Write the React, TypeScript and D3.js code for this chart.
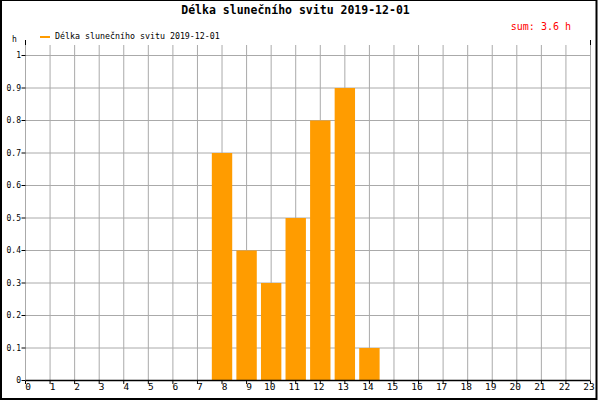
import React from "react";
import * as d3 from "d3";

const title = "Délka slunečního svitu 2019-12-01";
const seriesName = "Délka slunečního svitu 2019-12-01";
const sumLabel = "sum: 3.6 h";
const unitLabel = "h";
const hours = [8, 9, 10, 11, 12, 13, 14];
const values = [0.7, 0.4, 0.3, 0.5, 0.8, 0.9, 0.1];
const xTicks = d3.range(0, 24);
const yTicks = [0, 0.1, 0.2, 0.3, 0.4, 0.5, 0.6, 0.7, 0.8, 0.9, 1];
const yTickLabels = ["0", "0.1", "0.2", "0.3", "0.4", "0.5", "0.6", "0.7", "0.8", "0.9", "1"];

const W = 600;
const H = 400;
const font = "'DejaVu Sans Mono', 'Liberation Mono', monospace";
const barColor = "#ff9c00";
const gridColor = "#aaaaaa";

export default function App() {
  const x = d3.scaleLinear().domain([0, 23]).range([25.5, 590.5]);
  const y = d3.scaleLinear().domain([0, 1]).range([380.5, 55.5]);
  const step = x(1) - x(0);
  const bw = step * 0.83;
  const gridTop = 45;

  return (
    <svg width={W} height={H} style={{ position: "absolute", left: 0, top: 0, display: "block" }}>
      <rect x={0} y={0} width={W} height={H} fill="#fff" />
      {/* frame */}
      <rect x={0} y={0} width={2} height={400} fill="#000" />
      <rect x={0} y={0} width={597} height={1} fill="#000" />
      <rect x={595.5} y={0} width={2} height={400} fill="#000" />
      <rect x={0} y={398} width={597} height={2} fill="#000" />

      {/* title */}
      <text x={295.5} y={14} textAnchor="middle" fontFamily={font} fontWeight="bold" fontSize={11.5} fill="#000">
        {title}
      </text>
      <text x={571} y={30} textAnchor="end" fontFamily={font} fontSize={10} fill="#ff0000">
        {sumLabel}
      </text>

      {/* legend */}
      <line x1={40} x2={50} y1={37} y2={37} stroke={barColor} strokeWidth={2} />
      <text x={55} y={38.5} fontFamily={font} fontSize={8.3} fill="#000">
        {seriesName}
      </text>
      <text x={12} y={42} fontFamily={font} fontSize={8} fill="#000">
        {unitLabel}
      </text>

      {/* grid */}
      {yTicks.filter((t) => t > 0).map((t) => (
        <line key={"gy" + t} x1={x(0)} x2={x(23)} y1={y(t)} y2={y(t)} stroke={gridColor} strokeWidth={1} />
      ))}
      {xTicks.map((t) => (
        <line key={"gx" + t} x1={x(t)} x2={x(t)} y1={gridTop} y2={y(0)} stroke={gridColor} strokeWidth={1} />
      ))}
      <line x1={x(0)} x2={x(0)} y1={40} y2={gridTop} stroke="#000" strokeWidth={1} />
      <line x1={x(23)} x2={x(23)} y1={40} y2={gridTop} stroke="#000" strokeWidth={1} />

      {/* bars */}
      {hours.map((h, i) => (
        <rect key={"b" + h} x={x(h) - bw / 2} y={y(values[i])} width={bw} height={y(0) - y(values[i])} fill={barColor} />
      ))}

      {/* x axis */}
      <line x1={x(0)} x2={x(23)} y1={y(0)} y2={y(0)} stroke="#000" strokeWidth={1.5} />
      {xTicks.map((t) => (
        <g key={"xt" + t}>
          <line x1={x(t)} x2={x(t)} y1={381} y2={384} stroke="#000" strokeWidth={1} />
          <text
            x={x(t) + (t < 10 ? 2.5 : -1.5)}
            y={389.5}
            textAnchor="middle"
            fontFamily={font}
            fontSize={9.5}
            fill="#000"
          >
            {String(t)}
          </text>
        </g>
      ))}

      {/* y axis */}
      {yTicks.map((t, i) => (
        <g key={"yt" + t}>
          <line x1={21.5} x2={x(0)} y1={y(t)} y2={y(t)} stroke="#000" strokeWidth={1} />
          <text x={21} y={y(t) + 2.5} textAnchor="end" fontFamily={font} fontSize={8} fill="#000">
            {yTickLabels[i]}
          </text>
        </g>
      ))}
    </svg>
  );
}
